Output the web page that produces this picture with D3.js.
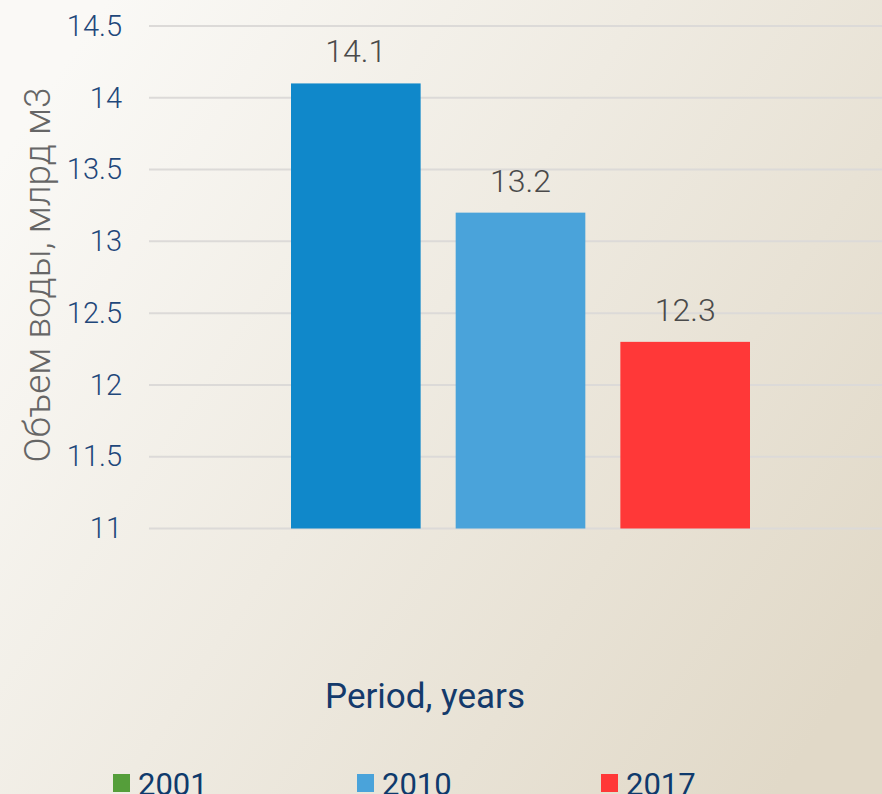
<!DOCTYPE html>
<html>
<head>
<meta charset="utf-8">
<script src="https://cdn.jsdelivr.net/npm/d3@7"></script>
<style>
  html, body { margin: 0; padding: 0; }
  body { width: 882px; height: 794px; overflow: hidden; font-family: Roboto, sans-serif; }
</style>
</head>
<body>
<div id="chart"></div>
<script>
var years = ['2001', '2010', '2017']
var values = [14.1, 13.2, 12.3]
var barColors = ['#1088ca', '#4aa3da', '#ff3838']
var legendColors = ['#559e3a', '#4aa3da', '#ff3838']
var yTicks = [11, 11.5, 12, 12.5, 13, 13.5, 14, 14.5]

var width = 882, height = 794

var svg = d3.select('#chart').append('svg')
  .attr('width', width).attr('height', height)

var defs = svg.append('defs')
var grad = defs.append('linearGradient').attr('id', 'bg')
  .attr('x1', '0%').attr('y1', '20%').attr('x2', '100%').attr('y2', '80%')
grad.append('stop').attr('offset', '0%').attr('stop-color', '#faf9f6')
grad.append('stop').attr('offset', '45%').attr('stop-color', '#efebe2')
grad.append('stop').attr('offset', '100%').attr('stop-color', '#e1d9c8')

svg.append('rect').attr('width', width).attr('height', height).attr('fill', 'url(#bg)')

var y = d3.scaleLinear().domain([11, 14.5]).range([528.5, 26])
var x = d3.scaleBand().domain(years).range([291, 750]).paddingInner(0.2128).paddingOuter(0)

// gridlines
svg.append('g').selectAll('line').data(yTicks).join('line')
  .attr('x1', 149).attr('x2', width)
  .attr('y1', d => y(d)).attr('y2', d => y(d))
  .attr('stroke', '#dcdad8').attr('stroke-width', 2)

// y tick labels
var yAxis = d3.axisLeft(y).tickValues(yTicks).tickSize(0).tickPadding(0).tickFormat(d3.format('~g'))
var ax = svg.append('g').attr('transform', 'translate(122,0)').call(yAxis)
ax.select('.domain').remove()
ax.selectAll('text')
  .attr('fill', '#1f477a').style('font-family', 'Roboto').style('font-size', '29px').style('font-weight', 300)

// bars
svg.append('g').selectAll('rect').data(values).join('rect')
  .attr('x', (d, i) => x(years[i]))
  .attr('y', d => y(d))
  .attr('width', x.bandwidth())
  .attr('height', d => y(11) - y(d))
  .attr('fill', (d, i) => barColors[i])

// value labels
svg.append('g').selectAll('text').data(values).join('text')
  .attr('x', (d, i) => x(years[i]) + x.bandwidth() / 2)
  .attr('y', d => y(d) - 21)
  .attr('text-anchor', 'middle')
  .attr('fill', '#4a4a4a')
  .style('font-size', '32px').style('font-weight', 300)
  .text(d => d)

// axis titles
svg.append('text')
  .attr('transform', 'translate(50,' + 275 + ') rotate(-90)')
  .attr('text-anchor', 'middle')
  .attr('fill', '#666')
  .style('font-size', '37px').style('font-weight', 300)
  .text('Объем воды, млрд м3')

svg.append('text')
  .attr('x', 425).attr('y', 708)
  .attr('text-anchor', 'middle')
  .attr('fill', '#143a6b')
  .style('font-size', '35px')
  .text('Period, years')

// legend
var leg = svg.append('g').selectAll('g').data(years).join('g')
  .attr('transform', (d, i) => 'translate(' + (113 + i * 244) + ',0)')
leg.append('rect').attr('x', 0).attr('y', 774).attr('width', 17).attr('height', 18)
  .attr('fill', (d, i) => legendColors[i])
leg.append('text').attr('x', 25).attr('y', 795)
  .attr('fill', '#0f3a6c')
  .style('font-size', '31px')
  .text(d => d)
</script>
</body>
</html>
